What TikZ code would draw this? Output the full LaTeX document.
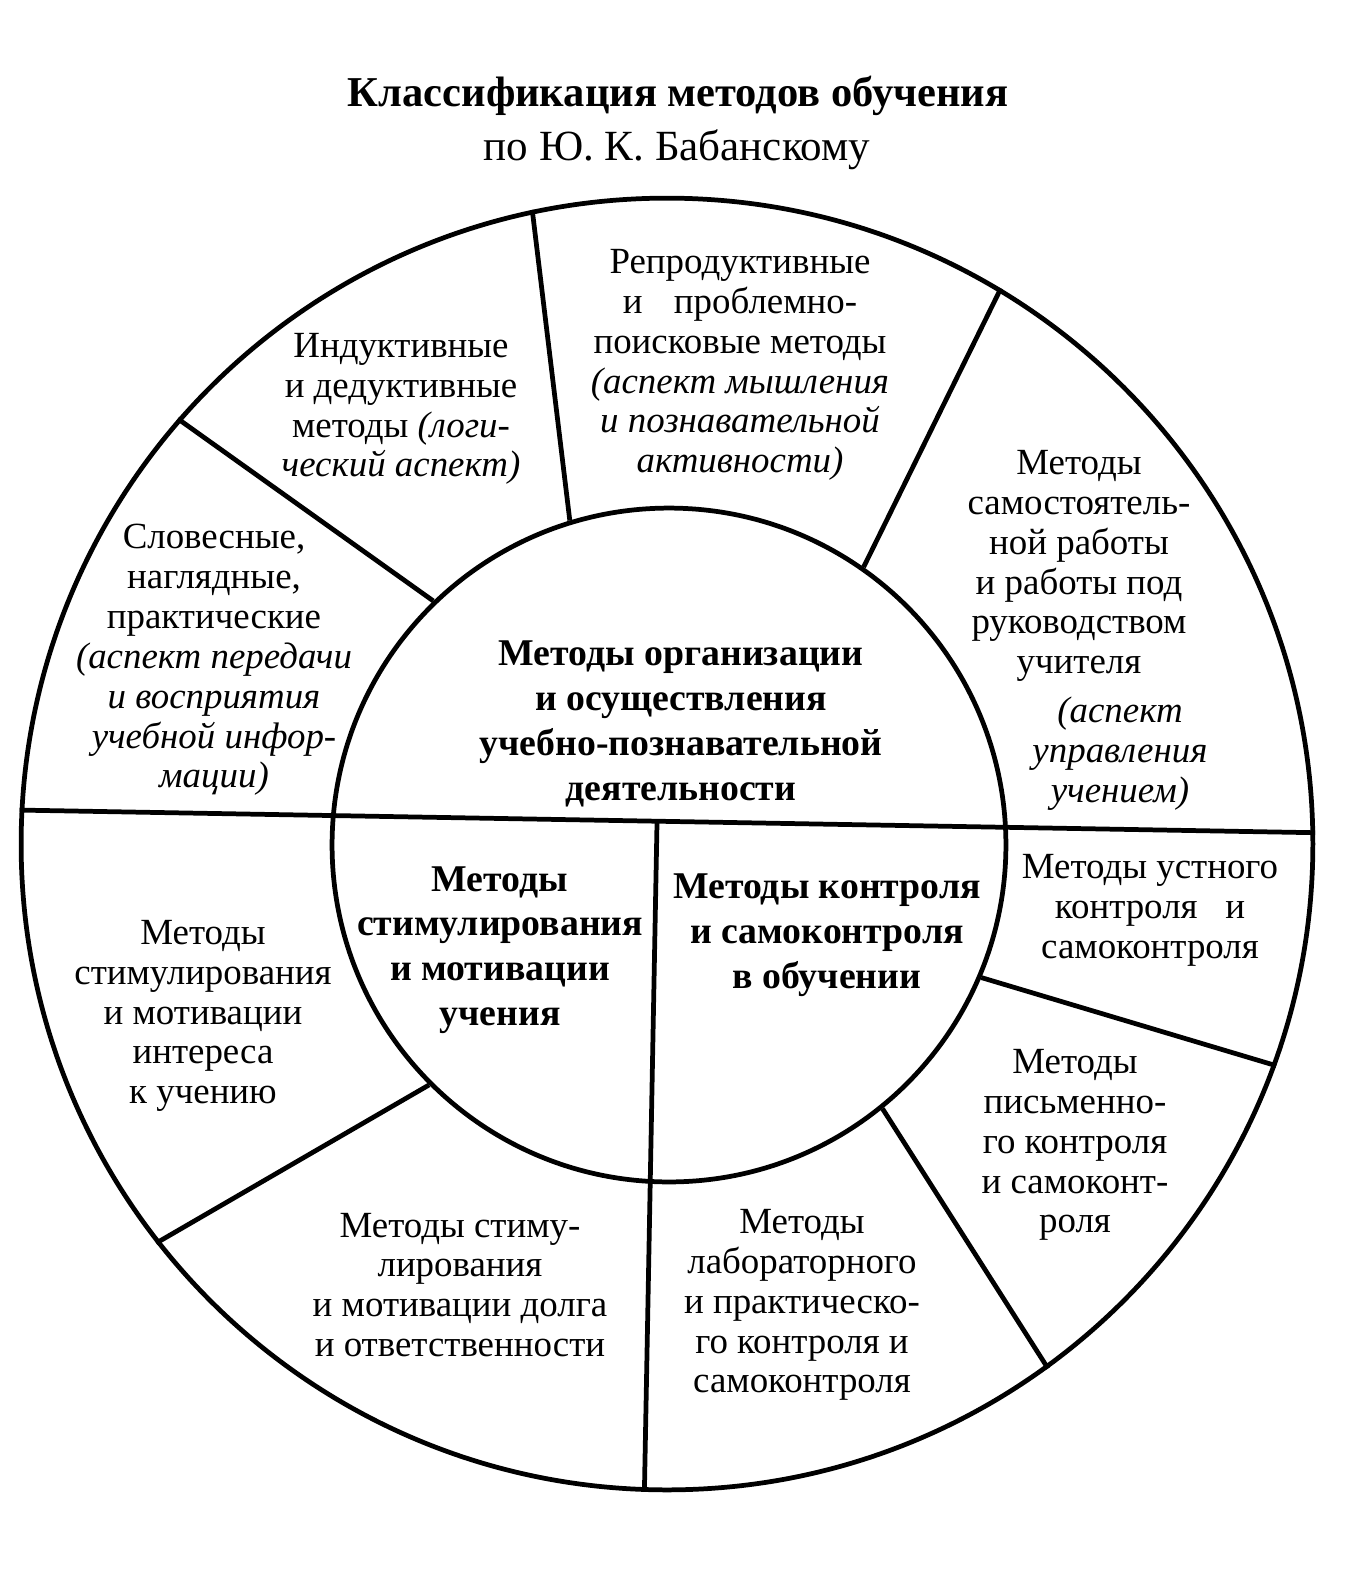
\documentclass[tikz,border=0pt]{standalone}
\usepackage{fontspec}
\setmainfont{Liberation Serif}
\usetikzlibrary{calc}
\tikzset{
  ring/.style={draw, circle, inner sep=0pt, line width=2.7pt},
  divider/.style={line width=2.7pt},
  lbl/.style={align=center, inner sep=0pt, font=\fontsize{21}{22.7}\selectfont},
  lblb/.style={align=center, inner sep=0pt, font=\fontsize{21.5}{25.5}\selectfont\bfseries},
}
\begin{document}
\begin{tikzpicture}[x=0.02cm,y=-0.02cm]
\path[use as bounding box] (0,0) rectangle (1358,1570);
% title
\node[inner sep=0pt, font=\fontsize{24.2}{26}\selectfont\bfseries] (title) at (678,96) {Классификация методов обучения};
\node[inner sep=0pt, font=\fontsize{24.5}{26}\selectfont] (subtitle) at (677,150) {по Ю. К. Бабанскому};
% circles
\node[ring, minimum size=25.84cm] (outer) at (667,844) {};
\node[ring, minimum size=13.48cm] (inner) at (669,845) {};
% dividers
\draw[divider] (outer.102.25) -- (inner.107.5);
\draw[divider] (outer.139.6) -- (inner.134.5);
\draw[divider] (outer.59.3) -- (inner.55.3);
\draw[divider] (outer.177.25) -- (outer.1);
\coordinate (vtop) at ($(outer.177.25)!0.492!(outer.1)$);
\draw[divider] (vtop) -- (outer.-92.1);
\draw[divider] (inner.-135) -- (outer.-142.2);
\draw[divider] (inner.-51.9) -- (outer.-54.4);
\draw[divider] (inner.-23.2) -- (outer.-20.2);
% texts
\node[lbl] (induct) at (401,409) {Индуктивные\\и дедуктивные\\методы \textit{(логи-}\\\textit{ческий аспект)}};
\node[lbl] (reprod) at (740,365) {Репродуктивные\\и\hspace{0.6em} проблемно-\\поисковые методы\\\textit{(аспект мышления}\\\textit{и познавательной}\\\textit{активности)}};
\node[lbl] (samost) at (1079,566) {Методы\\самостоятель-\\ной работы\\и работы под\\руководством\\учителя};
\node[lbl, font=\fontsize{21}{22.7}\selectfont\itshape] (samostit) at (1120,754) {(аспект\\управления\\учением)};
\node[lbl] (slovesn) at (214,660) {Словесные,\\наглядные,\\практические\\\textit{(аспект передачи}\\\textit{и восприятия}\\\textit{учебной инфор-}\\\textit{мации)}};
\node[lblb] (organiz) at (681,724) {Методы организации\\и осуществления\\учебно-познавательной\\деятельности};
\node[lblb] (stimul) at (500,950) {Методы\\стимулирования\\и мотивации\\учения};
\node[lblb] (kontrol) at (827,935) {Методы контроля\\и самоконтроля\\в обучении};
\node[lbl] (interes) at (203,1016) {Методы\\стимулирования\\и мотивации\\интереса\\к учению};
\node[lbl] (dolg) at (460,1285) {Методы стиму-\\лирования\\и мотивации долга\\и ответственности};
\node[lbl] (labor) at (802,1305) {Методы\\лабораторного\\и практическо-\\го контроля и\\самоконтроля};
\node[lbl] (pismen) at (1075,1145) {Методы\\письменно-\\го контроля\\и самоконт-\\роля};
\node[lbl] (ustn) at (1150,910) {Методы устного\\контроля\hspace{0.5em} и\\самоконтроля};
\end{tikzpicture}
\end{document}
